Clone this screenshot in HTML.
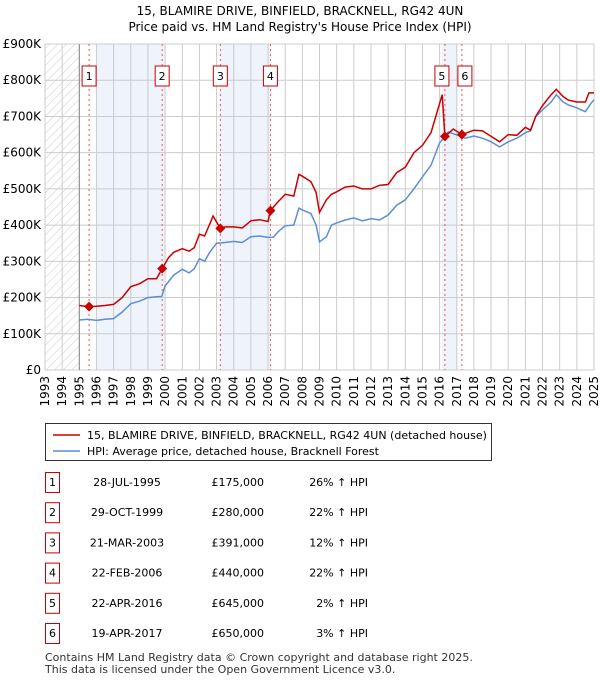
<!DOCTYPE html>
<html><head><meta charset="utf-8"><style>
body{margin:0;background:#fff;font-family:"Liberation Sans","DejaVu Sans",sans-serif;}
#wrap{position:relative;width:600px;height:680px;overflow:hidden}
svg text{font-family:"DejaVu Sans","Liberation Sans",sans-serif}
</style></head><body>
<div id="wrap">
<svg id="chart" width="600" height="680"></svg>
</div>
<script>
const yearTicks=[1993,1994,1995,1996,1997,1998,1999,2000,2001,2002,2003,2004,2005,2006,2007,2008,2009,2010,2011,2012,2013,2014,2015,2016,2017,2018,2019,2020,2021,2022,2023,2024,2025];
const valueTicks=[0,100,200,300,400,500,600,700,800,900];
const valueTickLabels=["£0","£100K","£200K","£300K","£400K","£500K","£600K","£700K","£800K","£900K"];
const hpiYears=[1995,1995.5,1996,1996.5,1997,1997.5,1998,1998.5,1999,1999.5,1999.8,2000,2000.5,2001,2001.4,2001.7,2002,2002.3,2002.6,2003,2003.5,2004,2004.5,2005,2005.5,2006,2006.3,2006.6,2007,2007.5,2007.8,2008,2008.5,2008.8,2009,2009.4,2009.7,2010,2010.5,2011,2011.5,2012,2012.5,2013,2013.5,2014,2014.5,2015,2015.5,2016,2016.5,2017,2017.5,2018,2018.5,2019,2019.5,2020,2020.5,2021,2021.3,2021.6,2022,2022.5,2022.8,2023.2,2023.5,2024,2024.5,2024.8,2025];
const hpiValues=[138,140,137,140,142,160,183,190,200,202,203,232,262,278,268,280,307,300,325,350,352,355,352,368,370,366,366,382,398,400,447,442,432,400,354,368,400,406,414,420,412,418,414,428,455,470,500,533,565,627,657,649,640,646,640,630,616,630,640,655,660,700,718,740,760,740,732,724,713,735,746];
const priceYears=[1995,1995.58,1996,1996.5,1997,1997.5,1998,1998.5,1999,1999.5,1999.83,2000.2,2000.5,2001,2001.4,2001.7,2002,2002.3,2002.8,2003.22,2003.5,2004,2004.5,2005,2005.5,2006,2006.14,2006.5,2007,2007.5,2007.8,2008,2008.5,2008.8,2009,2009.4,2009.7,2010,2010.5,2011,2011.5,2012,2012.5,2013,2013.5,2014,2014.5,2015,2015.5,2016.15,2016.31,2016.8,2017.3,2018,2018.5,2019,2019.5,2020,2020.5,2021,2021.3,2021.6,2022,2022.5,2022.8,2023.2,2023.5,2024,2024.5,2024.7,2025];
const priceValues=[178,175,176,178,181,200,230,238,252,252,280,310,325,335,328,338,375,370,425,391,395,395,392,412,415,410,440,460,485,480,540,535,520,490,435,470,485,492,505,508,500,500,510,512,545,560,600,620,655,760,645,665,650,662,660,645,630,650,648,670,662,700,730,760,775,755,745,740,740,765,765];
const saleLabels=["1","2","3","4","5","6"];
const saleYears=[1995.57,1999.83,2003.22,2006.14,2016.31,2017.3];
const saleValues=[175,280,391,440,645,650];
const saleDates=["28-JUL-1995","29-OCT-1999","21-MAR-2003","22-FEB-2006","22-APR-2016","19-APR-2017"];
const salePrices=["£175,000","£280,000","£391,000","£440,000","£645,000","£650,000"];
const salePct=["26%","22%","12%","22%","2%","3%"];
const bandStarts=[1996,2003.22,2016.15];
const bandEnds=[2000,2006.14,2017.05];

const NS="http://www.w3.org/2000/svg";
const svg=document.getElementById('chart');
const X0=45,X1=594,Y0=370,Y1=44;
const xs=y=>X0+(y-1993)/(2025-1993)*(X1-X0);
const ys=v=>Y0-v/900*(Y0-Y1);
function mk(tag,attrs,parent){const e=document.createElementNS(NS,tag);for(const k in attrs)e.setAttribute(k,attrs[k]);(parent||svg).appendChild(e);return e;}

const defs=mk('defs',{});
const pat=mk('pattern',{id:'hatch',width:6,height:6,patternUnits:'userSpaceOnUse',patternTransform:'rotate(45)'},defs);
mk('line',{x1:0,y1:0,x2:0,y2:6,stroke:'#ccc','stroke-width':1},pat);

let t=mk('text',{x:300,y:15,'text-anchor':'middle','font-size':12});t.textContent="15, BLAMIRE DRIVE, BINFIELD, BRACKNELL, RG42 4UN";

t=mk('text',{x:300,y:31,'text-anchor':'middle','font-size':12});t.textContent="Price paid vs. HM Land Registry's House Price Index (HPI)";


let r=mk('rect',{x:X0,y:Y1,width:xs(1995)-X0,height:Y0-Y1,fill:'url(#hatch)'});

bandStarts.forEach((b,i)=>{const e=mk('rect',{x:xs(b),y:Y1,width:xs(bandEnds[i])-xs(b),height:Y0-Y1,fill:'#eef3fc'});
});

yearTicks.forEach(y=>{const l=mk('line',{x1:xs(y),x2:xs(y),y1:Y1,y2:Y0,stroke:'#ccc','stroke-width':1});

const tx=mk('text',{x:0,y:0,'font-size':12,'text-anchor':'end',transform:`translate(${xs(y)+4},${Y0+6}) rotate(-90)`});tx.textContent=y;
});
valueTicks.forEach((v,i)=>{const l=mk('line',{x1:X0,x2:X1,y1:ys(v),y2:ys(v),stroke:'#ccc','stroke-width':1});

const tx=mk('text',{x:X0-4,y:ys(v)+4,'font-size':12,'text-anchor':'end'});tx.textContent=valueTickLabels[i];
});
let ax=mk('line',{x1:xs(1995),x2:xs(1995),y1:Y1,y2:Y0,stroke:'#888'});

saleYears.forEach((y,i)=>{const l=mk('line',{x1:xs(y),x2:xs(y),y1:Y1,y2:Y0,stroke:'#e55','stroke-width':1,'stroke-dasharray':'2,3'});
});

const pts=(xa,va)=>xa.map((x,i)=>xs(x).toFixed(1)+','+ys(va[i]).toFixed(1)).join(' ');
let hl=mk('polyline',{points:pts(hpiYears,hpiValues),fill:'none',stroke:'#5b8fd4','stroke-width':1.5});

let pl=mk('polyline',{points:pts(priceYears,priceValues),fill:'none',stroke:'#cc0000','stroke-width':1.5});


saleYears.forEach((y,i)=>{const cx=xs(y),cy=ys(saleValues[i]);
const d=mk('polygon',{points:`${cx},${cy-5} ${cx+5},${cy} ${cx},${cy+5} ${cx-5},${cy}`,fill:'#cc0000'});

const bx=(i===4)?cx-10:(i===5?cx-4:cx-7);
const g=mk('g',{});
mk('rect',{x:bx,y:66,width:14,height:20,fill:'#fff',stroke:'#cc0000'},g);
const tx=mk('text',{x:bx+7,y:80,'font-size':11,'text-anchor':'middle'},g);tx.textContent=saleLabels[i];});

// legend
const lg=mk('g',{});
mk('rect',{x:45.5,y:423.5,width:446,height:37,fill:'#fff',stroke:'#333'},lg);
mk('line',{x1:53,x2:80,y1:435,y2:435,stroke:'#cc0000','stroke-width':1.5},lg);
t=mk('text',{x:87,y:439,'font-size':11},lg);t.textContent="15, BLAMIRE DRIVE, BINFIELD, BRACKNELL, RG42 4UN (detached house)";

mk('line',{x1:53,x2:80,y1:451,y2:451,stroke:'#5b8fd4','stroke-width':1.5},lg);
t=mk('text',{x:87,y:455,'font-size':11},lg);t.textContent="HPI: Average price, detached house, Bracknell Forest";


// table
saleLabels.forEach((s,i)=>{const y=482+i*30.2;
const g=mk('g',{});
mk('rect',{x:45.5,y:y-9.5,width:14,height:20,fill:'#fff',stroke:'#cc0000'},g);
let a=mk('text',{x:52.5,y:y+4,'font-size':11,'text-anchor':'middle'},g);a.textContent=s;
a=mk('text',{x:127,y:y+4,'font-size':11,'text-anchor':'middle'},g);a.textContent=saleDates[i];
a=mk('text',{x:264,y:y+4,'font-size':11,'text-anchor':'end'},g);a.textContent=salePrices[i];
a=mk('text',{x:368,y:y+4,'font-size':11,'text-anchor':'end'},g);a.textContent=salePct[i]+" ↑ HPI";});

t=mk('text',{x:45,y:661,'font-size':11,fill:'#333'});t.textContent="Contains HM Land Registry data © Crown copyright and database right 2025.";

t=mk('text',{x:45,y:673,'font-size':11,fill:'#333'});t.textContent="This data is licensed under the Open Government Licence v3.0.";

</script>
</body></html>
